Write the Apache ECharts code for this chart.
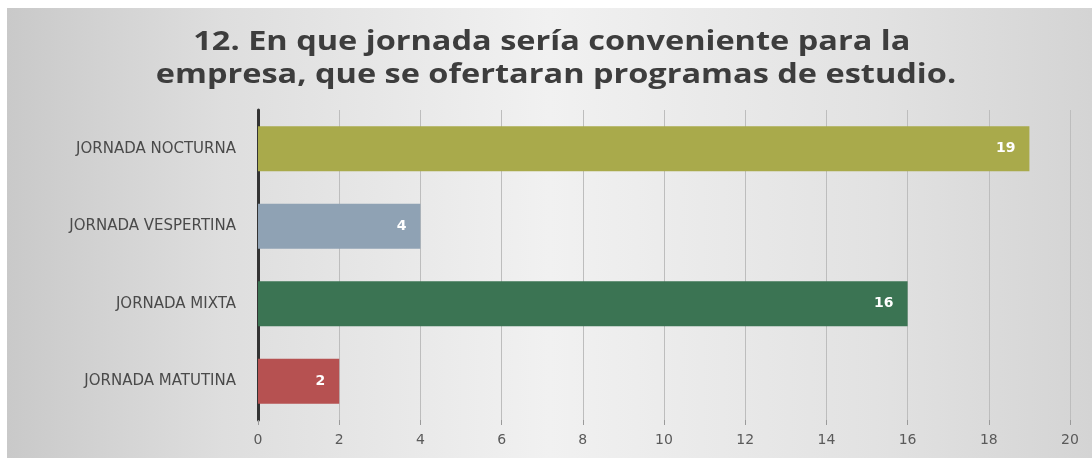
<!DOCTYPE html>
<html lang="es">
<head>
    <meta charset="UTF-8">
    <title>Jornada conveniente</title>
    <style>
        html, body { margin: 0; padding: 0; background: #fff; }
        #chart { width: 1092px; height: 458px; }
    </style>
</head>
<body>
    <div id="chart"></div>
    <script src="https://cdn.jsdelivr.net/npm/echarts@6/dist/echarts.min.js"></script>
    <script>
        // datos (de abajo hacia arriba, como en el eje de categorías)
        const categorias = ['JORNADA MATUTINA', 'JORNADA MIXTA', 'JORNADA VESPERTINA', 'JORNADA NOCTURNA'];
        const valores = [2, 16, 4, 19];
        const colores = ['#b65151', '#3b7453', '#8fa2b4', '#a9aa4b'];
        const ticksX = [0, 2, 4, 6, 8, 10, 12, 14, 16, 18, 20];
        const titulo = '12. En que jornada sería conveniente para la \nempresa, que se ofertaran programas de estudio.';

        const chart = echarts.init(document.getElementById('chart'));

        chart.setOption({
            backgroundColor: '#ffffff',
            graphic: [{
                // panel gris con degradado horizontal
                type: 'rect',
                z: -10,
                silent: true,
                shape: { x: 7, y: 8, width: 1085, height: 450 },
                style: {
                    fill: {
                        type: 'linear', x: 0, y: 0, x2: 1, y2: 0,
                        colorStops: [
                            { offset: 0, color: '#c9c9c9' },
                            { offset: 0.2, color: '#dedede' },
                            { offset: 0.5, color: '#f1f1f1' },
                            { offset: 0.8, color: '#e2e2e2' },
                            { offset: 1, color: '#d4d4d4' }
                        ]
                    }
                }
            }, {
                // título (estirado a lo ancho como en el original)
                type: 'text',
                silent: true,
                x: 556,
                y: 26,
                scaleX: 1.25,
                style: {
                    text: titulo,
                    align: 'center',
                    font: 'bold 26px "Open Sans"',
                    lineHeight: 33,
                    fill: '#3d3d3d'
                }
            }],
            grid: { left: 258, right: 22, top: 110, bottom: 38 },
            xAxis: {
                type: 'value',
                min: 0,
                max: 20,
                interval: 2,
                axisLine: { show: false },
                axisTick: { show: true, length: 5, lineStyle: { color: '#9a9a9a' } },
                splitLine: { show: true, lineStyle: { color: '#bdbdbd', width: 1 } },
                axisLabel: {
                    color: '#5a5a5a', fontSize: 14, fontFamily: 'DejaVu Sans', margin: 13,
                    formatter: v => ticksX.includes(v) ? String(v) : ''
                }
            },
            yAxis: {
                type: 'category',
                data: categorias,
                axisLine: { show: true, lineStyle: { color: '#333333', width: 3 } },
                axisTick: { show: false },
                axisLabel: { color: '#4a4a4a', fontSize: 15, fontFamily: 'DejaVu Sans', margin: 22 }
            },
            series: [{
                type: 'bar',
                barWidth: '58%',
                data: valores.map((v, i) => ({ value: v, itemStyle: { color: colores[i] } })),
                label: {
                    show: true,
                    position: 'insideRight',
                    distance: 14,
                    color: '#ffffff',
                    fontWeight: 'bold',
                    fontSize: 14,
                    fontFamily: 'DejaVu Sans'
                }
            }]
        });
    </script>
</body>
</html>
